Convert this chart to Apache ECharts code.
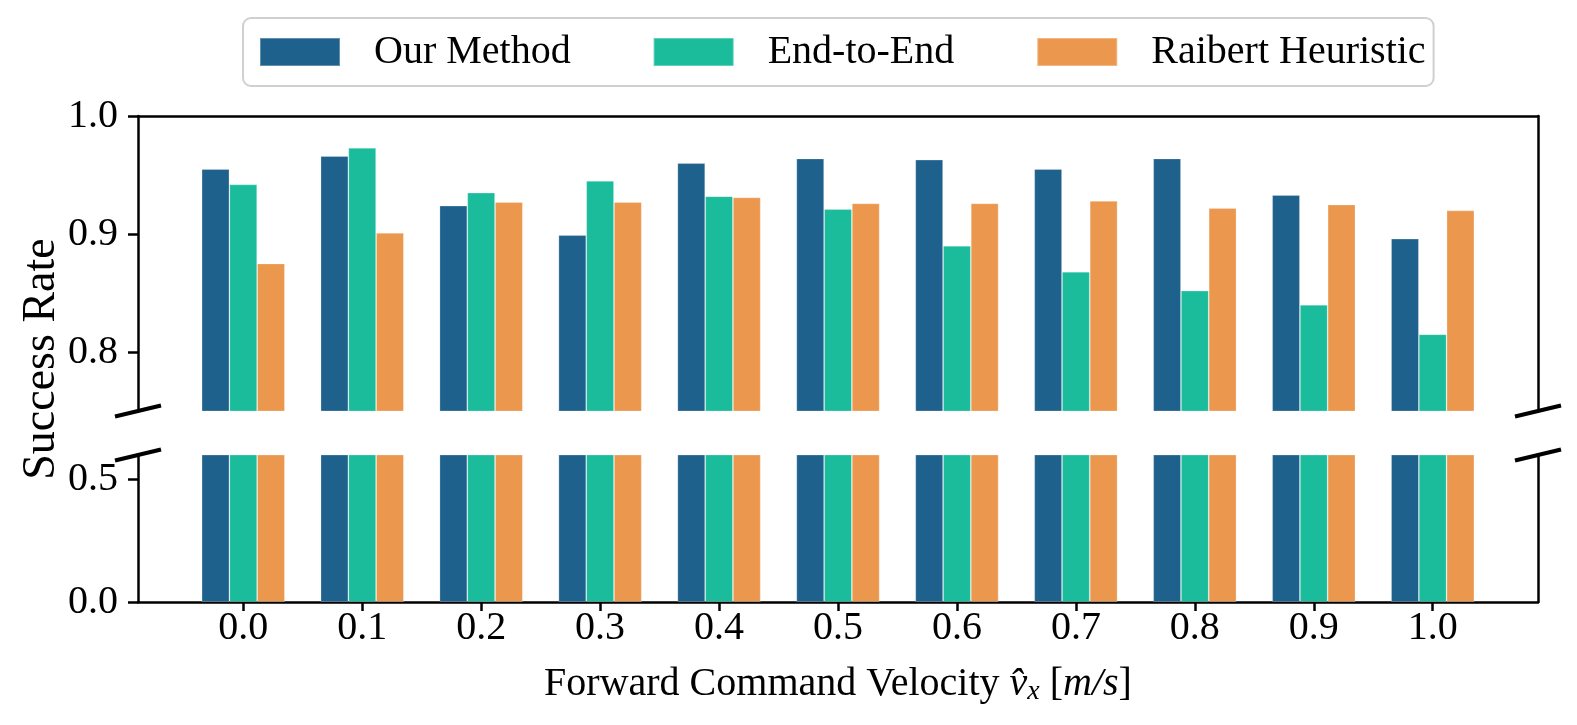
<!DOCTYPE html>
<html><head><meta charset="utf-8">
<script src="https://cdn.jsdelivr.net/npm/echarts@6/dist/echarts.min.js"></script>
<style>html,body{margin:0;padding:0;background:#fff}#c{width:1577px;height:725px}</style>
</head><body><div id="c"></div>
<script>
const categories = ['0.0','0.1','0.2','0.3','0.4','0.5','0.6','0.7','0.8','0.9','1.0'];
const ourMethod = [0.955,0.966,0.924,0.899,0.960,0.964,0.963,0.955,0.964,0.933,0.896];
const endToEnd  = [0.942,0.973,0.935,0.945,0.932,0.921,0.890,0.868,0.852,0.840,0.815];
const raibert   = [0.875,0.901,0.927,0.927,0.931,0.926,0.926,0.928,0.922,0.925,0.920];
const seriesNames = ['Our Method','End-to-End','Raibert Heuristic'];
const yTopTicks = [0.8, 0.9, 1.0];
const yBottomTicks = [0.0, 0.5];
const yTopRange = [0.75, 1.0];
const yBottomRange = [0.0, 0.6];

const FONT = 'Liberation Serif';
const colors = ['#1f618d','#1abc9c','#eb984e'];
const xMin = -0.885, xMax = categories.length - 1 + 0.885;
const idx = categories.map((c,i)=>i);
const pairs = arr => arr.map((v,i)=>[i,v]);
const seriesVals = [ourMethod, endToEnd, raibert];

const chart = echarts.init(document.getElementById('c'), null, {renderer:'canvas'});
const series = [];
[0,1].forEach(g => {
  seriesVals.forEach((vals,k) => {
    series.push({
      type:'bar', name:seriesNames[k], xAxisIndex:g*2, yAxisIndex:g*2,
      data:pairs(vals), barWidth:'23.33%', barGap:'0%', clip:true,
      itemStyle:{color:colors[k], borderColor:'rgba(255,255,255,0.3)', borderWidth:0.8},
      emphasis:{disabled:true}
    });
  });
});
const line = {show:true, onZero:false, lineStyle:{color:'#000', width:2.5}};
const spineOnly = {axisLine:line, axisTick:{show:false}, axisLabel:{show:false}, splitLine:{show:false}};
const lbl = {fontFamily:FONT, fontSize:40, color:'#000'};

chart.setOption({
  animation:false,
  backgroundColor:'#fff',
  legend:{
    data:seriesNames, left:243, top:18, orient:'horizontal', icon:'rect',
    itemWidth:80, itemHeight:28, itemGap:82, padding:[14,8,14,16],
    borderColor:'#d0d0d0', borderWidth:2, borderRadius:8, selectedMode:false,
    textStyle:{fontFamily:FONT, fontSize:40, color:'#000', padding:[0,0,0,29]}
  },
  grid:[
    {left:138, right:39, top:116, height:295},
    {left:138, right:39, top:455, height:147}
  ],
  xAxis:[
    {gridIndex:0, type:'value', min:xMin, max:xMax, show:false},
    Object.assign({gridIndex:0, type:'value', position:'top', min:xMin, max:xMax}, spineOnly),
    {gridIndex:1, type:'value', min:xMin, max:xMax, axisLine:line,
     axisTick:{show:true, customValues:idx, length:9, lineStyle:{color:'#000', width:2.5}},
     axisLabel:Object.assign({customValues:idx, formatter:v=>categories[Math.round(v)], margin:6}, lbl),
     splitLine:{show:false},
     name:'{n|Forward Command Velocity }{i|v\u0302}{s|x}{n| [}{i|m/s}{n|]}',
     nameLocation:'middle', nameGap:60,
     nameTextStyle:{fontFamily:FONT, fontSize:40, color:'#000', rich:{
       n:{fontFamily:FONT, fontSize:40, lineHeight:44, color:'#000'},
       i:{fontFamily:FONT, fontStyle:'italic', fontSize:40, lineHeight:44, color:'#000'},
       s:{fontFamily:FONT, fontStyle:'italic', fontSize:28, lineHeight:28, verticalAlign:'bottom', color:'#000'}
     }}},
    {gridIndex:1, type:'value', position:'top', min:xMin, max:xMax, show:false}
  ],
  yAxis:[
    {gridIndex:0, type:'value', min:yTopRange[0], max:yTopRange[1], axisLine:line,
     axisTick:{show:true, customValues:yTopTicks, length:10, lineStyle:{color:'#000', width:2.5}},
     axisLabel:Object.assign({customValues:yTopTicks, formatter:v=>v.toFixed(1), margin:20}, lbl),
     splitLine:{show:false}},
    Object.assign({gridIndex:0, type:'value', position:'right', min:yTopRange[0], max:yTopRange[1]}, spineOnly),
    {gridIndex:1, type:'value', min:yBottomRange[0], max:yBottomRange[1], axisLine:line,
     axisTick:{show:true, customValues:yBottomTicks, length:10, lineStyle:{color:'#000', width:2.5}},
     axisLabel:Object.assign({customValues:yBottomTicks, formatter:v=>v.toFixed(1), margin:20}, lbl),
     splitLine:{show:false}},
    Object.assign({gridIndex:1, type:'value', position:'right', min:yBottomRange[0], max:yBottomRange[1]}, spineOnly)
  ],
  series:series
});

// broken-axis marks and y title
const marks = [];
const pts = [
  chart.convertToPixel({xAxisIndex:0, yAxisIndex:0}, [xMin, yTopRange[0]]),
  chart.convertToPixel({xAxisIndex:0, yAxisIndex:0}, [xMax, yTopRange[0]]),
  chart.convertToPixel({xAxisIndex:2, yAxisIndex:2}, [xMin, yBottomRange[1]]),
  chart.convertToPixel({xAxisIndex:2, yAxisIndex:2}, [xMax, yBottomRange[1]])
];
pts.forEach(p => {
  marks.push({type:'line', z:100, shape:{x1:p[0]-23, y1:p[1]+5.5, x2:p[0]+23, y2:p[1]-5.5},
    style:{stroke:'#000', lineWidth:4}});
});
const topY = chart.convertToPixel({yAxisIndex:0}, yTopRange[1]);
const botY = chart.convertToPixel({yAxisIndex:2}, yBottomRange[0]);
marks.push({type:'text', x:42, y:(topY+botY)/2, rotation:Math.PI/2,
  style:{text:'Success Rate', font:'46px "Liberation Serif"', fill:'#000', align:'center', verticalAlign:'middle'}});
chart.setOption({graphic:marks});
</script>
</body></html>
